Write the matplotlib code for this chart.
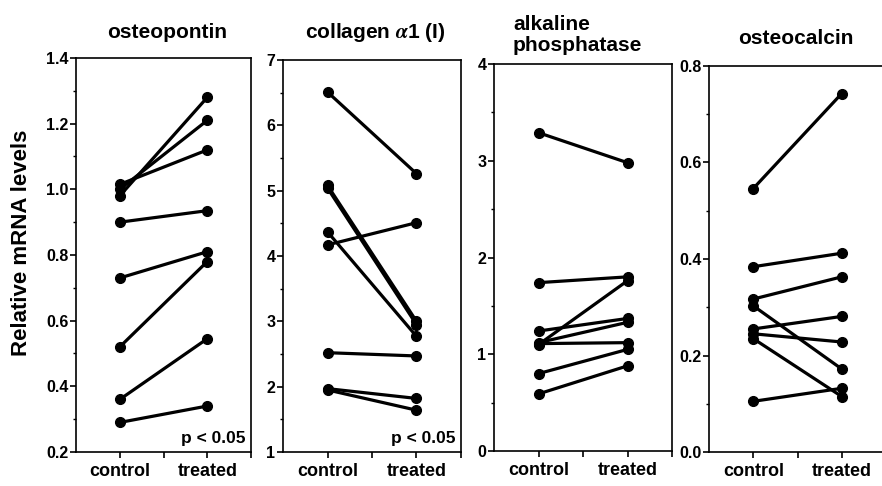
import matplotlib
matplotlib.use("Agg")
import matplotlib.pyplot as plt
from matplotlib.ticker import MultipleLocator, FormatStrFormatter

plt.rcParams['font.family'] = ['Liberation Sans', 'DejaVu Sans']
plt.rcParams['font.weight'] = 'bold'
plt.rcParams['mathtext.fontset'] = 'stix'

groups = ["control", "treated"]

titles = ["osteopontin", "collagen $\\alpha$1 (I)", "alkaline\nphosphatase", "osteocalcin"]

op_control = [0.98, 1.00, 1.015, 0.90, 0.73, 0.52, 0.36, 0.29]
op_treated = [1.28, 1.21, 1.12, 0.935, 0.81, 0.78, 0.545, 0.34]

col_control = [6.51, 5.08, 5.04, 4.37, 4.17, 2.52, 1.97, 1.95]
col_treated = [5.26, 3.00, 2.95, 2.77, 4.51, 2.47, 1.82, 1.64]

alp_control = [3.29, 1.74, 1.10, 1.24, 1.12, 1.11, 0.80, 0.59]
alp_treated = [2.98, 1.80, 1.76, 1.37, 1.33, 1.12, 1.05, 0.88]

oc_control = [0.546, 0.384, 0.317, 0.303, 0.255, 0.245, 0.235, 0.105]
oc_treated = [0.743, 0.412, 0.363, 0.172, 0.281, 0.228, 0.115, 0.132]

ylims = [(0.2, 1.4), (1, 7), (0, 4), (0, 0.8)]
ymajor = [0.2, 1, 1, 0.2]
yminor = [0.1, 0.5, 0.5, 0.1]
yfmt = ["%.1f", "%d", "%d", "%.1f"]
pvals = ["p < 0.05", "p < 0.05", None, None]

W, H = 882, 486
fig = plt.figure(figsize=(W / 100, H / 100), dpi=100)

# axes boxes in pixels: left, right, top, bottom
boxes = [(76, 251, 58, 452), (283, 461, 60, 452), (494, 672, 64, 451), (709, 886, 66, 452)]

data = [(op_control, op_treated), (col_control, col_treated),
        (alp_control, alp_treated), (oc_control, oc_treated)]

for i, (box, (c, t)) in enumerate(zip(boxes, data)):
    l, r, tp, b = box
    ax = fig.add_axes([l / W, (H - b) / H, (r - l) / W, (b - tp) / H])
    for cv, tv in zip(c, t):
        ax.plot([1, 3], [cv, tv], color='black', lw=2.3, marker='o',
                markersize=7, solid_capstyle='round', clip_on=False)
    ax.set_xlim(0, 4)
    ax.set_ylim(*ylims[i])
    ax.set_xticks([1, 2, 3, 4])
    ax.set_xticklabels([groups[0], "", groups[1], ""], fontsize=13, fontweight='bold')
    ax.yaxis.set_major_locator(MultipleLocator(ymajor[i]))
    ax.yaxis.set_minor_locator(MultipleLocator(yminor[i]))
    ax.yaxis.set_major_formatter(FormatStrFormatter(yfmt[i]))
    for lab in ax.get_yticklabels():
        lab.set_fontsize(11.5)
        lab.set_fontweight('bold')
    ax.tick_params(axis='both', which='major', direction='out', length=4, width=1.2, color='black')
    ax.tick_params(axis='y', which='minor', direction='out', length=2.5, width=1.0)
    ax.tick_params(axis='x', which='major', pad=4)
    ax.tick_params(axis='y', which='major', pad=1.5)
    for s in ax.spines.values():
        s.set_linewidth(1.2)
    if pvals[i]:
        ax.text(0.97, 0.015, pvals[i], transform=ax.transAxes, ha='right', va='bottom',
                fontsize=12.5, fontweight='bold')

# titles
fig.text(167 / W, 1 - 33 / H, titles[0], ha='center', va='center', fontsize=15, fontweight='bold')
fig.text(375 / W, 1 - 33 / H, titles[1], ha='center', va='center', fontsize=15, fontweight='bold')
fig.text(513 / W, 1 - 35 / H, titles[2], ha='left', va='center', fontsize=15, fontweight='bold',
         linespacing=1.15)
fig.text(796 / W, 1 - 39 / H, titles[3], ha='center', va='center', fontsize=15, fontweight='bold')

fig.text(22 / W, 1 - 243 / H, "Relative mRNA levels", rotation=90, ha='center', va='center',
         fontsize=16, fontweight='bold')

fig.savefig("out.png", dpi=100)
